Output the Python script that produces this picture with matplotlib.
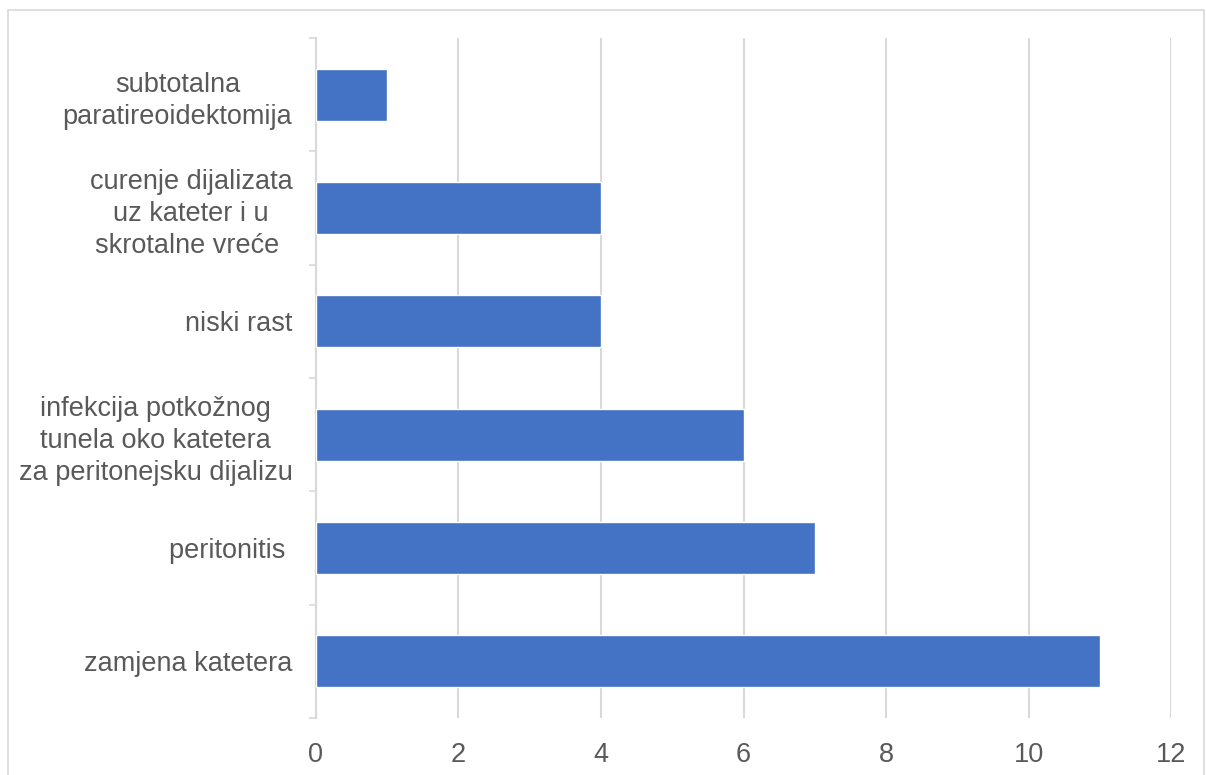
import matplotlib.pyplot as plt
from matplotlib.patches import Rectangle

plt.rcParams["font.family"] = ["Liberation Sans", "DejaVu Sans"]

categories = [
    "zamjena katetera",
    "peritonitis ",
    "infekcija potkožnog\ntunela oko katetera\nza peritonejsku dijalizu",
    "niski rast",
    "curenje dijalizata\nuz kateter i u\nskrotalne vreće ",
    "subtotalna\nparatireoidektomija",
]
values = [11, 7, 6, 4, 4, 1]
xticks = [0, 2, 4, 6, 8, 10, 12]

fig = plt.figure(figsize=(12.06, 7.75), dpi=100)
ax = fig.add_axes([316/1206, 1-718/775, (1171-316)/1206, (718-38)/775])

pos = range(len(categories))
ax.barh(pos, values, height=0.46, color="#4472C4", edgecolor="white", linewidth=1, zorder=3)

ax.set_xlim(0, 12)
ax.set_ylim(-0.5, 5.5)
ax.set_xticks(xticks)
ax.set_xticklabels([str(t) for t in xticks], fontsize=19.5, color="#595959")
ax.tick_params(axis="x", length=0, pad=17)

ax.set_yticks(list(pos))
ax.set_yticklabels(categories, fontsize=19.5, color="#595959", multialignment="center",
                   linespacing=1.3)
ax.tick_params(axis="y", which="major", length=0, pad=17)
ax.set_yticks([p - 0.5 for p in range(len(categories) + 1)], minor=True)
ax.tick_params(axis="y", which="minor", length=5, width=1.2, color="#d9d9d9")

ax.grid(axis="x", color="#d9d9d9", linewidth=1.5, zorder=0)
ax.set_axisbelow(True)
for s in ["top", "right", "bottom"]:
    ax.spines[s].set_visible(False)
ax.spines["left"].set_color("#d9d9d9")
ax.spines["left"].set_linewidth(1.5)

fig.patches.append(Rectangle((8/1206, -0.05), 1196/1206, 1.05 - 10/775, transform=fig.transFigure,
                             fill=False, edgecolor="#d9d9d9", linewidth=1.2))

fig.savefig("out.png", dpi=100)
